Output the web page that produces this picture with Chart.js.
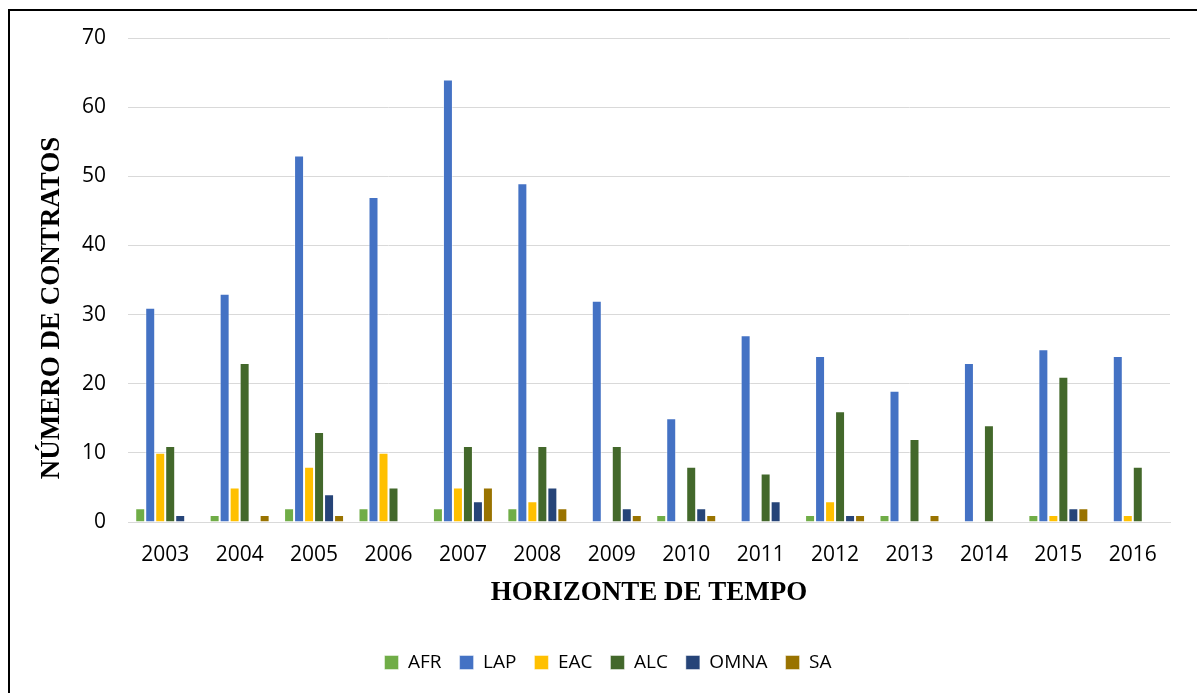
<!DOCTYPE html>
<html>
<head>
<meta charset="utf-8">
<script src="https://cdn.jsdelivr.net/npm/chart.js@4"></script>
<style>
  html, body { margin: 0; padding: 0; background: #fff; overflow: hidden; }
  #wrap { position: relative; width: 1197px; height: 693px; }
  #frame { position: absolute; left: 8px; top: 9px; width: 1400px; height: 900px;
           border-left: 2px solid #000; border-top: 2px solid #000; pointer-events: none; }
  canvas { position: absolute; left: 0; top: 0; }
</style>
</head>
<body>
<div id="wrap">
  <canvas id="chart" width="1197" height="693"></canvas>
  <div id="frame"></div>
</div>
<script>
// Contracts per year, by region
const years = ['2003','2004','2005','2006','2007','2008','2009','2010','2011','2012','2013','2014','2015','2016'];
const afr  = [2, 1, 2, 2, 2, 2, 0, 1, 0, 1, 1, 0, 1, 0];
const lap  = [31, 33, 53, 47, 64, 49, 32, 15, 27, 24, 19, 23, 25, 24];
const eac  = [10, 5, 8, 10, 5, 3, 0, 0, 0, 3, 0, 0, 1, 1];
const alc  = [11, 23, 13, 5, 11, 11, 11, 8, 7, 16, 12, 14, 21, 8];
const omna = [1, 0, 4, 0, 3, 5, 2, 2, 3, 1, 0, 0, 2, 0];
const sa   = [0, 1, 1, 0, 5, 2, 1, 1, 0, 1, 1, 0, 2, 0];
const yTicks = [0, 10, 20, 30, 40, 50, 60, 70];

const yTitle = 'NÚMERO DE CONTRATOS';
const xTitle = 'HORIZONTE DE TEMPO';

const series = [
  { label: 'AFR',  data: afr,  color: '#70ad47' },
  { label: 'LAP',  data: lap,  color: '#4472c4' },
  { label: 'EAC',  data: eac,  color: '#ffc000' },
  { label: 'ALC',  data: alc,  color: '#43682b' },
  { label: 'OMNA', data: omna, color: '#264478' },
  { label: 'SA',   data: sa,   color: '#997300' }
];

const tickFont = { family: '"Open Sans", sans-serif', size: 21 };
const titleFont = 'bold 27px "Liberation Serif", "Times New Roman", serif';

// Axis titles drawn on the canvas, placed relative to the plot area
const axisTitles = {
  id: 'axisTitles',
  afterDraw(chart) {
    const { ctx, chartArea } = chart;
    ctx.save();
    ctx.fillStyle = '#000';
    ctx.font = titleFont;
    ctx.textAlign = 'center';
    ctx.textBaseline = 'middle';
    ctx.fillText(xTitle, (chartArea.left + chartArea.right) / 2, chartArea.bottom + 71);
    ctx.translate(52, chartArea.bottom - 214);
    ctx.rotate(-Math.PI / 2);
    ctx.fillText(yTitle, 0, 0);
    ctx.restore();
  }
};

new Chart(document.getElementById('chart'), {
  type: 'bar',
  data: {
    labels: years,
    datasets: series.map(s => ({
      label: s.label,
      data: s.data,
      backgroundColor: s.color,
      borderColor: 'rgba(255,255,255,0.45)',
      borderWidth: 1,
      barPercentage: 1.0,
      categoryPercentage: 0.806
    }))
  },
  options: {
    responsive: false,
    animation: false,
    layout: { padding: { left: 46, top: 38, right: 27, bottom: 11 } },
    plugins: {
      legend: {
        position: 'bottom',
        labels: {
          font: { family: '"Open Sans", sans-serif', size: 19 },
          color: '#000',
          boxWidth: 14,
          boxHeight: 14,
          padding: 18
        }
      },
      tooltip: { enabled: false }
    },
    scales: {
      x: {
        grid: { display: false },
        border: { display: true, color: '#d9d9d9', width: 1 },
        ticks: { font: tickFont, color: '#000', padding: 12, maxRotation: 0 },
        afterFit(scale) { scale.height = 113; }
      },
      y: {
        min: 0,
        max: 70,
        afterBuildTicks(scale) { scale.ticks = yTicks.map(v => ({ value: v })); },
        grid: { color: '#d9d9d9', lineWidth: 1, drawTicks: false },
        border: { display: false },
        ticks: { font: tickFont, color: '#000', padding: 22 },
        afterFit(scale) { scale.width = 82; }
      }
    }
  },
  plugins: [axisTitles]
});
</script>
</body>
</html>
